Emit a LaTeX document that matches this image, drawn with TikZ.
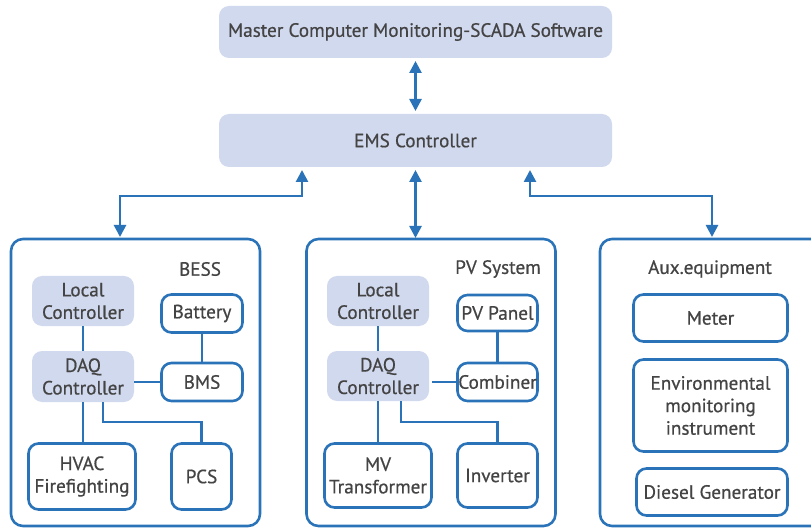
\documentclass[tikz,border=0pt]{standalone}
\usepackage{fontspec}
\setmainfont{PT Sans}[FakeBold=0.6]
\usetikzlibrary{arrows.meta,calc}
\definecolor{lineblue}{HTML}{2A73B8}
\definecolor{boxfill}{HTML}{D1D9EE}
\definecolor{txt}{HTML}{444444}
\begin{document}
\begin{tikzpicture}[x=1pt,y=-1pt,
  every node/.style={text=txt,font=\fontsize{19.2}{22.5}\selectfont,align=center,inner sep=0pt,outer sep=0pt},
  filled/.style={fill=boxfill,rounded corners=10pt},
  outlined/.style={draw=lineblue,line width=2.6pt,fill=white,rounded corners=10pt},
  container/.style={draw=lineblue,line width=2.6pt,rounded corners=12pt},
  link/.style={draw=lineblue,line width=2.6pt},
  dblarr/.style={link,{Triangle[length=12pt,width=12pt]}-{Triangle[length=12pt,width=12pt]}}
]
\useasboundingbox (0,0) rectangle (811,529);
\clip (0,0) rectangle (811,529);
% top level
\node[filled,minimum width=393pt,minimum height=52pt] (scada) at (415.5,32) {Master Computer Monitoring-SCADA Software};
\node[filled,minimum width=393pt,minimum height=53pt] (ems) at (415.5,140.5) {EMS Controller};
% containers
\node[container,minimum width=249pt,minimum height=287pt] (bess) at (135.5,382.5) {};
\node[container,minimum width=249pt,minimum height=287pt] (pv) at (431,382.5) {};
\node[container,minimum width=240pt,minimum height=287pt] (aux) at (720,382.5) {};
\node (bessl) at (200,269) {BESS};
\node (pvl) at (498,269) {PV System};
\node (auxl) at (710,269) {Aux.equipment};
% BESS
\node[filled,minimum width=102pt,minimum height=50pt] (lc1) at (83,301) {Local\\Controller};
\node[outlined,minimum width=81pt,minimum height=38pt] (bat) at (202,313.5) {Battery};
\node[filled,minimum width=102pt,minimum height=51pt] (daq1) at (83,376.5) {DAQ\\Controller};
\node[outlined,minimum width=81pt,minimum height=38pt] (bms) at (202,382) {BMS};
\node[outlined,minimum width=107pt,minimum height=66pt] (hvac) at (82,476.5) {HVAC\\Firefighting};
\node[outlined,minimum width=60pt,minimum height=66pt] (pcs) at (201.5,476.5) {PCS};
% PV
\node[filled,minimum width=102pt,minimum height=50pt] (lc2) at (378,301) {Local\\Controller};
\node[outlined,minimum width=80pt,minimum height=36pt] (panel) at (497.5,313) {PV Panel};
\node[filled,minimum width=102pt,minimum height=50pt] (daq2) at (378,376) {DAQ\\Controller};
\node[outlined,minimum width=80pt,minimum height=38pt] (comb) at (497.5,382) {Combiner};
\node[outlined,minimum width=107pt,minimum height=64pt] (mv) at (378,475.5) {MV\\Transformer};
\node[outlined,minimum width=80pt,minimum height=64pt] (inv) at (497.5,475.5) {Inverter};
% Aux
\node[outlined,minimum width=154pt,minimum height=47pt] (meter) at (710.5,318) {Meter};
\node[outlined,minimum width=154pt,minimum height=92pt] (env) at (710.5,405.5) {Environmental\\monitoring\\instrument};
\node[outlined,minimum width=151pt,minimum height=47pt] (diesel) at (712,492) {Diesel Generator};
% connectors
\draw[dblarr,shorten <=3pt,shorten >=3pt] (scada.south) -- (ems.north);
\coordinate (e1) at (302,167);
\coordinate (e3) at (530,167);
\coordinate (b1) at (120,238);
\coordinate (a1) at (712,238);
\draw[dblarr,shorten <=3pt,shorten >=1pt] (e1) -- ++(0,29) -| (b1);
\draw[dblarr,shorten <=3pt,shorten >=1pt] (ems.south) -- (ems.south |- pv.north);
\draw[dblarr,shorten <=3pt,shorten >=1pt] (e3) -- ++(0,29) -| (a1);
% BESS links
\draw[link] (lc1.south) -- (daq1.north);
\draw[link] (bat.south) -- (bms.north);
\draw[link] (daq1.east |- bms.west) -- (bms.west);
\draw[link] (daq1.south) -- (daq1.south |- hvac.north);
\draw[link] ([xshift=20pt]daq1.south) -- ++(0,20) -| (pcs.north);
% PV links
\draw[link] (lc2.south) -- (daq2.north);
\draw[link] (panel.south) -- (comb.north);
\draw[link] ([xshift=3pt]daq2.east |- comb.west) -- (comb.west);
\draw[link] (daq2.south) -- (mv.north);
\draw[link] ([xshift=23pt]daq2.south) -- ++(0,21) -| (inv.north);
\end{tikzpicture}
\end{document}
